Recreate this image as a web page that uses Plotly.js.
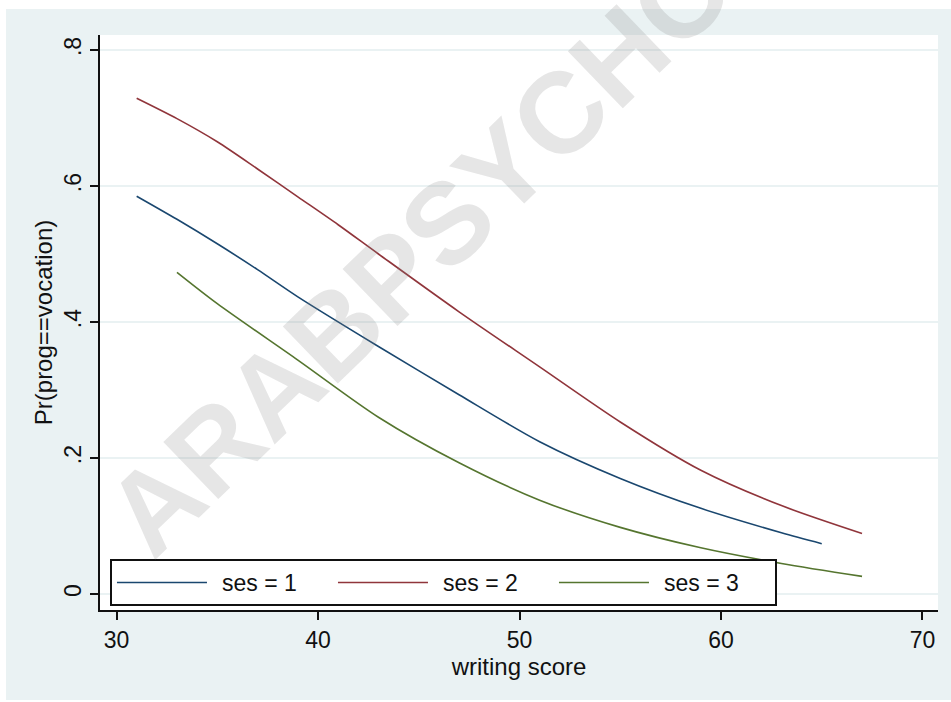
<!DOCTYPE html>
<html>
<head>
<meta charset="utf-8">
<script src="https://cdn.plot.ly/plotly-3.0.1.min.js"></script>
<style>html,body{margin:0;padding:0;background:#fff;}</style>
</head>
<body>
<div id="chart" style="width:951px;height:702px;"></div>
<script>
// writing score values and predicted probabilities Pr(prog==vocation)
const writeSes1 = [31, 33, 35, 37, 39, 43, 47, 51, 55, 59, 63, 65];
const probSes1  = [0.585, 0.551, 0.515, 0.477, 0.437, 0.364, 0.293, 0.224, 0.170, 0.126, 0.090, 0.074];
const writeSes2 = [31, 33, 35, 37, 39, 41, 43, 47, 51, 55, 59, 63, 67];
const probSes2  = [0.729, 0.699, 0.665, 0.625, 0.584, 0.543, 0.500, 0.415, 0.334, 0.253, 0.182, 0.130, 0.089];
const writeSes3 = [33, 35, 39, 43, 47, 51, 55, 59, 63, 67];
const probSes3  = [0.473, 0.427, 0.344, 0.260, 0.193, 0.138, 0.098, 0.068, 0.045, 0.026];
const seriesNames = ["ses = 1", "ses = 2", "ses = 3"];
const xTickVals = [30, 40, 50, 60, 70];
const yTickVals = [0, 0.2, 0.4, 0.6, 0.8];
const yTickText = ["0", ".2", ".4", ".6", ".8"];
const xTitle = "writing score";
const yTitle = "Pr(prog==vocation)";
const watermark = "ARABPSYCHOLOGY";

const FONT = "Liberation Sans, Arial, sans-serif";
const colors = ["#1a476f", "#90353b", "#55752f"];
const xs = [writeSes1, writeSes2, writeSes3];
const ys = [probSes1, probSes2, probSes3];

const traces = xs.map((x, i) => ({
  x: x, y: ys[i], name: seriesNames[i], type: "scatter", mode: "lines",
  line: {color: colors[i], width: 1.6, shape: "spline", smoothing: 0.8}
}));

const bg = "#eaf2f3";
const layout = {
  width: 951, height: 702,
  margin: {l: 100, r: 13, t: 35, b: 92},
  paper_bgcolor: bg, plot_bgcolor: "#ffffff",
  font: {family: FONT, size: 23, color: "#111"},
  showlegend: true,
  xaxis: {
    range: [29.18, 70.77], tickvals: xTickVals, ticks: "outside", ticklen: 8, tickwidth: 2,
    tickcolor: "#111", showline: true, linecolor: "#111", linewidth: 2, showgrid: false,
    zeroline: false, tickfont: {size: 23},
    title: {text: xTitle, font: {size: 24}, standoff: 0}
  },
  yaxis: {
    range: [-0.0235, 0.822], tickvals: yTickVals, ticktext: yTickText, tickangle: -90,
    ticks: "outside", ticklen: 8, tickwidth: 2, tickcolor: "#111", showline: true,
    linecolor: "#111", linewidth: 2, showgrid: true, gridcolor: bg, gridwidth: 2,
    zeroline: false, tickfont: {size: 23},
    title: {text: yTitle, font: {size: 24}, standoff: 0}
  },
  legend: {
    orientation: "h", x: 0.0119, y: 0.0887, xanchor: "left", yanchor: "top",
    bgcolor: "#ffffff", bordercolor: "#111", borderwidth: 2,
    font: {size: 23}, itemwidth: 100, entrywidth: 106, tracegroupgap: 0
  },
  shapes: [
    {type: "rect", xref: "paper", yref: "paper", x0: -0.2, x1: 1.1, y0: 1.0452, y1: 1.1, fillcolor: "#fff", line: {width: 0}},
    {type: "rect", xref: "paper", yref: "paper", x0: -0.2, x1: -0.1122, y0: -0.2, y1: 1.1, fillcolor: "#fff", line: {width: 0}},
    {type: "rect", xref: "paper", yref: "paper", x0: -0.2, x1: 1.1, y0: -0.2, y1: -0.1565, fillcolor: "#fff", line: {width: 0}}
  ],
  annotations: [{
    text: watermark, xref: "paper", yref: "paper", x: 0.521, y: 0.824,
    xanchor: "center", yanchor: "middle", showarrow: false, textangle: -44,
    font: {family: FONT, size: 115, weight: "bold", color: "rgba(128,128,128,0.2)"}
  }]
};

Plotly.newPlot("chart", traces, layout, {displayModeBar: false, staticPlot: true}).then(() => {
  document.querySelectorAll(".legendlines path").forEach(p => p.setAttribute("d", "M5,0h90"));
});
</script>
</body>
</html>
